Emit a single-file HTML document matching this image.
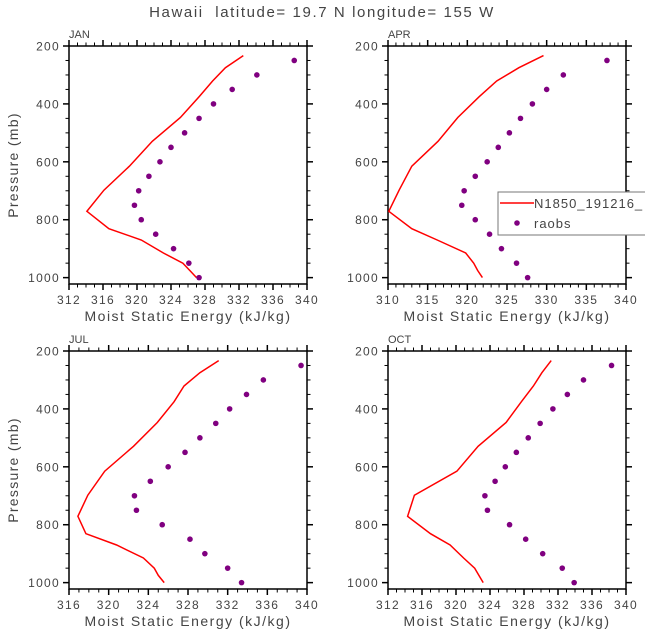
<!DOCTYPE html>
<html><head><meta charset="utf-8"><style>
body{margin:0;background:#fff;}
svg{display:block;font-family:"Liberation Sans",sans-serif;}
text{white-space:pre;}
</style></head><body>
<svg id="c" width="645" height="640" xmlns="http://www.w3.org/2000/svg">
<text x="322" y="17" text-anchor="middle" font-size="15" letter-spacing="1.6" fill="#444">Hawaii  latitude= 19.7 N longitude= 155 W</text>
</svg>
<script>
const modelLevels=[233,275,321,375,447,529,615,698,771,831,870,915,950,975,1000];
const obsLevels=[250,300,350,400,450,500,550,600,650,700,750,800,850,900,950,1000];
const janModel=[332.5,330.4,328.9,327.3,325.1,321.8,319.1,316.1,314.1,316.7,320.5,323.1,325.4,326.2,327.0];
const janObs=[338.5,334.1,331.2,329.0,327.3,325.6,324.0,322.7,321.4,320.2,319.7,320.5,322.2,324.3,326.1,327.3];
const aprModel=[329.6,326.5,323.7,321.5,318.8,316.3,313.0,311.4,310.1,313.0,316.2,319.8,320.8,321.3,321.9];
const aprObs=[337.6,332.1,330.0,328.2,326.7,325.3,323.9,322.5,321.0,319.6,319.3,321.0,322.8,324.3,326.2,327.6];
const julModel=[331.1,329.2,327.6,326.6,324.9,322.5,319.6,317.9,316.9,317.7,320.8,323.5,324.6,325.0,325.6];
const julObs=[339.4,335.6,333.9,332.2,330.8,329.2,327.7,326.0,324.2,322.6,322.8,325.4,328.2,329.7,332.0,333.4];
const octModel=[331.2,330.1,329.1,327.7,325.9,322.6,320.1,315.1,314.3,317.0,319.3,320.9,322.2,322.7,323.2];
const octObs=[338.3,335.0,333.1,331.4,329.9,328.5,327.1,325.8,324.6,323.4,323.7,326.3,328.2,330.2,332.5,333.9];
const janTicks=[312,316,320,324,328,332,336,340];
const aprTicks=[310,315,320,325,330,335,340];
const julTicks=[316,320,324,328,332,336,340];
const octTicks=[312,316,320,324,328,332,336,340];
const pTicks=[200,400,600,800,1000];

const NS="http://www.w3.org/2000/svg";
const svg=document.getElementById('c');
function mk(tag,attrs,parent){const e=document.createElementNS(NS,tag);for(const k in attrs)e.setAttribute(k,attrs[k]);(parent||svg).appendChild(e);return e;}

const panels=[
 {name:'jan',label:'JAN',x0:69,y0:46,xmin:312,xmax:340,ticks:janTicks,minor:1,model:janModel,obs:janObs,ytitle:true},
 {name:'apr',label:'APR',x0:388,y0:46,xmin:310,xmax:340,ticks:aprTicks,minor:1,model:aprModel,obs:aprObs,ytitle:false},
 {name:'jul',label:'JUL',x0:69,y0:351,xmin:316,xmax:340,ticks:julTicks,minor:1,model:julModel,obs:julObs,ytitle:true},
 {name:'oct',label:'OCT',x0:388,y0:351,xmin:312,xmax:340,ticks:octTicks,minor:1,model:octModel,obs:octObs,ytitle:false}
];
const W=238, PMIN=200, PMAX=1022, H=238;
panels.forEach(p=>{
 const g=mk('g',{});
 
 
 const xs=v=>p.x0+(v-p.xmin)/(p.xmax-p.xmin)*W;
 const ys=v=>p.y0+(v-PMIN)/(PMAX-PMIN)*H;
 const ax=mk('g',{stroke:'#000','stroke-width':1},g);
 
 
 mk('rect',{x:p.x0,y:p.y0,width:W,height:H,fill:'none','stroke-width':1.5},ax);
 for(let v=p.xmin;v<=p.xmax+1e-6;v+=p.minor){
  const major=p.ticks.includes(v);const L=major?6:3.5;const x=xs(v);
  mk('line',{x1:x,x2:x,y1:p.y0,y2:p.y0-L,'stroke-width':major?1.5:1},ax);
  mk('line',{x1:x,x2:x,y1:p.y0+H,y2:p.y0+H+L,'stroke-width':major?1.5:1},ax);
 }
 for(let v=200;v<=1000;v+=50){
  const major=pTicks.includes(v);const L=major?6:3.5;const y=ys(v);
  mk('line',{x1:p.x0,x2:p.x0-L,y1:y,y2:y,'stroke-width':major?1.5:1},ax);
  mk('line',{x1:p.x0+W,x2:p.x0+W+L,y1:y,y2:y,'stroke-width':major?1.5:1},ax);
 }
 p.ticks.forEach(v=>{
  const t=mk('text',{x:xs(v),y:p.y0+H+20,'text-anchor':'middle','font-size':12,'letter-spacing':1.3,fill:'#444'},g);
  t.textContent=v;
  
  
 });
 pTicks.forEach(v=>{
  const t=mk('text',{x:p.x0-9,y:ys(v)+4.5,'text-anchor':'end','font-size':12,'letter-spacing':1.3,fill:'#444'},g);
  t.textContent=v;
  
  
 });
 const lb=mk('text',{x:p.x0,y:p.y0-8,'font-size':11,fill:'#444'},g);
 lb.textContent=p.label;
 
 
 const xt=mk('text',{x:p.x0+W/2,y:p.y0+H+37,'text-anchor':'middle','font-size':14,'letter-spacing':1.5,fill:'#444'},g);
 xt.textContent='Moist Static Energy (kJ/kg)';
 
 
 if(p.ytitle){
  const yt=mk('text',{x:0,y:0,'text-anchor':'middle','font-size':14,'letter-spacing':1.3,fill:'#444',transform:`translate(18,${p.y0+H/2}) rotate(-90)`},g);
  yt.textContent='Pressure (mb)';
  
  
 }
 const pts=p.model.map((v,i)=>xs(v).toFixed(1)+','+ys(modelLevels[i]).toFixed(1)).join(' ');
 const pl=mk('polyline',{points:pts,fill:'none',stroke:'#f00','stroke-width':1.5},g);
 
 
 p.obs.forEach((v,i)=>{
  const c=mk('circle',{cx:xs(v),cy:ys(obsLevels[i]),r:2.8,fill:'#800080'},g);
  
  
 });
});
// legend
const lg=mk('g',{});


mk('rect',{x:498,y:192,width:160,height:43,fill:'#fff',stroke:'#777','stroke-width':1},lg);
const l1=mk('line',{x1:500,x2:534,y1:203,y2:203,stroke:'#f00','stroke-width':1.5},lg);


const t1=mk('text',{x:534,y:208,'font-size':13,'letter-spacing':1,fill:'#444'},lg);t1.textContent='N1850_191216_';


const c1=mk('circle',{cx:517,cy:223,r:2.8,fill:'#800080'},lg);


const t2=mk('text',{x:534,y:228,'font-size':13,'letter-spacing':1,fill:'#444'},lg);t2.textContent='raobs';


</script>
</body></html>
